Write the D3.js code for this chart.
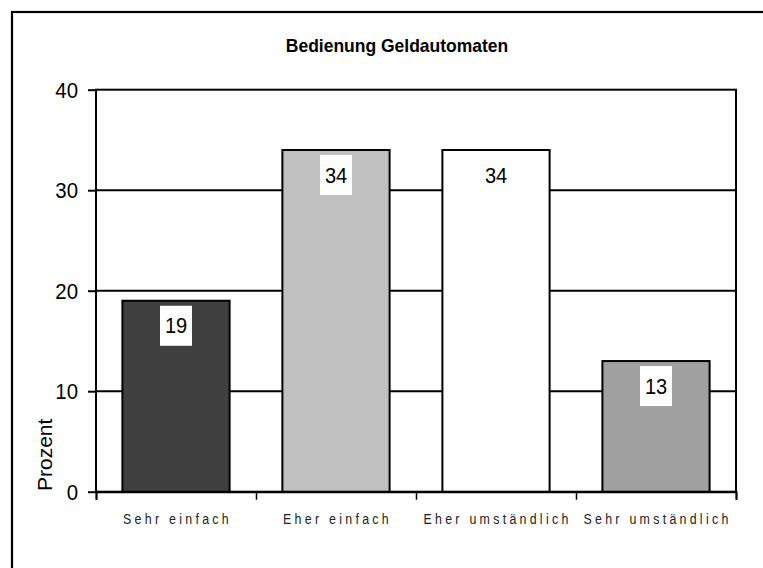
<!DOCTYPE html>
<html>
<head>
<meta charset="utf-8">
<script src="https://cdn.jsdelivr.net/npm/d3@7"></script>
<style>
  body { margin: 0; background: #fff; }
  svg { display: block; font-family: Arial, "Liberation Sans", sans-serif; }
</style>
</head>
<body>
<div id="chart"></div>
<script>
const width = 763;
const height = 568;

// data
const categories = ['Sehr einfach', 'Eher einfach', 'Eher umständlich', 'Sehr umständlich'];
const values = [19, 34, 34, 13];
const barColors = ['#404040', '#c0c0c0', '#ffffff', '#a0a0a0'];
const yTicks = [0, 10, 20, 30, 40];

const plot = { left: 96, right: 736, top: 89.7, bottom: 491.7 };

const svg = d3.select('#chart')
  .append('svg')
  .attr('width', width)
  .attr('height', height);

// outer frame (runs off the picture on the right and bottom)
svg.append('rect')
  .attr('x', 12).attr('y', 12)
  .attr('width', 800).attr('height', 600)
  .attr('fill', 'none')
  .attr('stroke', '#000')
  .attr('stroke-width', 2.2);

svg.append('text')
  .attr('transform', 'translate(397,52) scale(0.95,1)')
  .attr('text-anchor', 'middle')
  .style('font-size', '18.4px')
  .style('font-weight', 'bold')
  .text('Bedienung Geldautomaten');

const xScale = d3.scaleBand()
  .domain(categories)
  .range([plot.left, plot.right])
  .paddingInner(0.33)
  .paddingOuter(0.165);

const yScale = d3.scaleLinear()
  .domain([0, 40])
  .range([plot.bottom, plot.top]);

// gridlines
svg.append('g')
  .attr('class', 'gridlines')
  .selectAll('line')
  .data(yTicks.filter(d => d > 0 && d < 40))
  .join('line')
  .attr('x1', plot.left).attr('x2', plot.right)
  .attr('y1', d => yScale(d)).attr('y2', d => yScale(d))
  .attr('stroke', '#000')
  .attr('stroke-width', 2);

// plot border
svg.append('rect')
  .attr('x', plot.left).attr('y', plot.top)
  .attr('width', plot.right - plot.left)
  .attr('height', plot.bottom - plot.top)
  .attr('fill', 'none')
  .attr('stroke', '#000')
  .attr('stroke-width', 2);

// y axis
const yAxis = d3.axisLeft(yScale).tickValues(yTicks).tickSize(8).tickPadding(10);
const gy = svg.append('g')
  .attr('transform', `translate(${plot.left},0)`)
  .call(yAxis);
gy.select('.domain').remove();
gy.selectAll('line').attr('stroke', '#000').attr('stroke-width', 2);
gy.selectAll('text')
  .style('font-size', '21.5px')
  .attr('fill', '#000')
  .attr('font-family', null)
  .attr('dy', '0.34em')
  .attr('transform', 'translate(-18,0) scale(0.95,1) translate(18,0)');

// x axis ticks at category boundaries
const edgeScale = d3.scaleLinear().domain([0, categories.length]).range([plot.left, plot.right]);
const gx = svg.append('g')
  .attr('transform', `translate(0,${plot.bottom})`)
  .call(d3.axisBottom(edgeScale).ticks(categories.length).tickSize(8).tickFormat(''));
gx.select('.domain').attr('stroke', '#000').attr('stroke-width', 2);
gx.selectAll('line').attr('stroke', '#000').attr('stroke-width', 1.5);

// category labels (narrow, widely spaced like the original export)
svg.append('g')
  .selectAll('g')
  .data(categories)
  .join('g')
  .attr('transform', d => `translate(${xScale(d) + xScale.bandwidth() / 2 + 1.5},524)`)
  .append('text')
  .attr('transform', 'scale(0.8,1)')
  .attr('text-anchor', 'middle')
  .style('font-size', '15.5px')
  .style('letter-spacing', '4.1px')
  .attr('fill', '#222')
  .text(d => d);

// bars
svg.append('g')
  .selectAll('rect')
  .data(values)
  .join('rect')
  .attr('x', (d, i) => xScale(categories[i]))
  .attr('y', d => yScale(d))
  .attr('width', xScale.bandwidth())
  .attr('height', d => yScale(0) - yScale(d))
  .attr('fill', (d, i) => barColors[i])
  .attr('stroke', '#000')
  .attr('stroke-width', 2);

// value labels with white boxes
const labels = svg.append('g')
  .selectAll('g')
  .data(values)
  .join('g')
  .attr('transform', (d, i) => `translate(${xScale(categories[i]) + xScale.bandwidth() / 2},${yScale(d)})`);

labels.append('rect')
  .attr('x', -16).attr('y', 5)
  .attr('width', 32).attr('height', 40)
  .attr('fill', '#fff');

labels.append('text')
  .attr('transform', 'translate(0,32.5) scale(0.93,1)')
  .attr('text-anchor', 'middle')
  .style('font-size', '21.5px')
  .text(d => d);

// y axis title
svg.append('text')
  .attr('transform', 'translate(52,491) rotate(-90)')
  .attr('text-anchor', 'start')
  .style('font-size', '21px')
  .text('Prozent');
</script>
</body>
</html>
